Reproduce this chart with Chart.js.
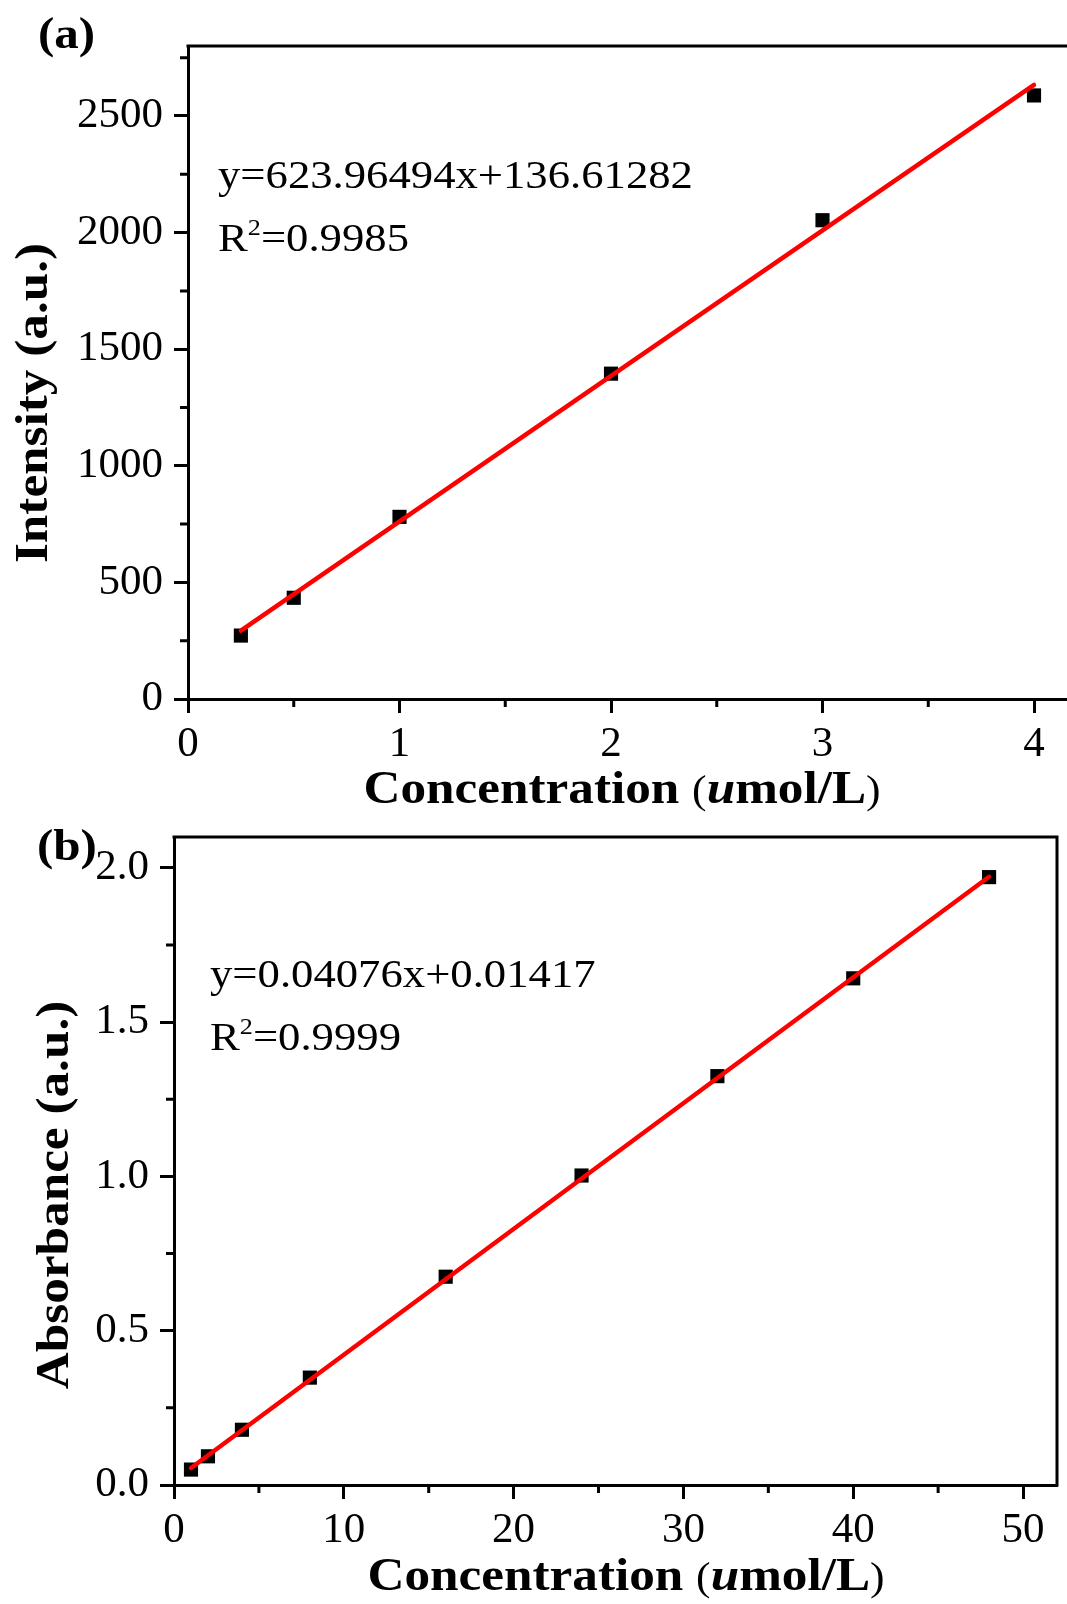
<!DOCTYPE html>
<html>
<head>
<meta charset="utf-8">
<script src="https://cdn.jsdelivr.net/npm/chart.js@4.4.1/dist/chart.umd.min.js"></script>
<style>
  html, body { margin: 0; padding: 0; background: #fff; }
  #wrap { position: relative; width: 1067px; height: 1604px; overflow: hidden; }
  canvas { position: absolute; left: 0; }
</style>
</head>
<body>
<div id="wrap">
  <canvas id="chartA" width="1067" height="830" style="top:0"></canvas>
  <canvas id="chartB" width="1067" height="804" style="top:800px"></canvas>
</div>
<script>
/* (a) intensity vs concentration */
const concA = [0.25, 0.5, 1, 2, 3, 4];
const intensityA = [272, 434, 781, 1395, 2053, 2588];
const fitXA = [0.25, 4];
const fitYA = [293, 2633];
const xTicksA = [0, 1, 2, 3, 4];
const xTickLabelsA = ['0', '1', '2', '3', '4'];
const xMinorA = [0.5, 1.5, 2.5, 3.5];
const yTicksA = [0, 500, 1000, 1500, 2000, 2500];
const yTickLabelsA = ['0', '500', '1000', '1500', '2000', '2500'];
const yMinorA = [250, 750, 1250, 1750, 2250, 2750];

/* (b) absorbance vs concentration */
const concB = [1, 2, 4, 8, 16, 24, 32, 40, 48];
const absorbB = [0.050, 0.093, 0.179, 0.348, 0.675, 1.003, 1.325, 1.642, 1.970];
const fitXB = [1, 48];
const fitYB = [0.055, 1.971];
const xTicksB = [0, 10, 20, 30, 40, 50];
const xTickLabelsB = ['0', '10', '20', '30', '40', '50'];
const xMinorB = [5, 15, 25, 35, 45];
const yTicksB = [0, 0.5, 1.0, 1.5, 2.0];
const yTickLabelsB = ['0.0', '0.5', '1.0', '1.5', '2.0'];
const yMinorB = [0.25, 0.75, 1.25, 1.75];

const SERIF = "'Liberation Serif', 'Times New Roman', serif";
const SX = 1.09; // source text is a bit wider than Times

function toPoints(xs, ys) {
  return xs.map((x, i) => ({ x, y: ys[i] }));
}

function richWidth(ctx, segs) {
  let w = 0;
  for (const s of segs) { ctx.font = s.font; w += ctx.measureText(s.text).width * SX; }
  return w;
}

function drawRich(ctx, segs, x, y) {
  let cx = x;
  for (const s of segs) {
    ctx.font = s.font;
    ctx.save();
    ctx.translate(cx, y + (s.dy || 0));
    ctx.scale(SX, 1);
    ctx.fillText(s.text, 0, 0);
    ctx.restore();
    cx += ctx.measureText(s.text).width * SX;
  }
}

const B47 = `bold 47px ${SERIF}`;
const concTitle = [
  { text: 'Concentration ', font: B47 },
  { text: '(', font: `40px ${SERIF}` },
  { text: 'u', font: `italic bold 47px ${SERIF}` },
  { text: 'mol/L', font: B47 },
  { text: ')', font: `40px ${SERIF}` },
];

// frame, minor ticks and all annotation text
const decor = {
  id: 'decor',
  afterDraw(chart, args, o) {
    const { ctx, chartArea: a, scales } = chart;
    ctx.save();
    ctx.strokeStyle = '#000';
    ctx.lineWidth = 3;
    ctx.lineCap = 'square';
    ctx.beginPath();
    ctx.moveTo(a.left, a.top);
    ctx.lineTo(a.right, a.top);
    if (o.rightBorder) ctx.lineTo(a.right, a.bottom);
    ctx.stroke();

    ctx.lineCap = 'butt';
    ctx.beginPath();
    o.xMinor.forEach(v => {
      const px = scales.x.getPixelForValue(v);
      ctx.moveTo(px, a.bottom); ctx.lineTo(px, a.bottom + 8);
    });
    o.yMinor.forEach(v => {
      const py = scales.y.getPixelForValue(v);
      ctx.moveTo(a.left, py); ctx.lineTo(a.left - 8, py);
    });
    ctx.stroke();

    ctx.fillStyle = '#000';
    ctx.textBaseline = 'alphabetic';
    ctx.textAlign = 'left';

    // panel label
    drawRich(ctx, [{ text: o.panel, font: `bold 45px ${SERIF}` }], o.panelX, o.panelY);

    // fit equation
    const R41 = `41px ${SERIF}`;
    drawRich(ctx, [{ text: o.equation, font: R41 }], o.eqX, o.eqY);
    drawRich(ctx, [
      { text: 'R', font: R41 },
      { text: '2', font: `24px ${SERIF}`, dy: -16 },
      { text: o.r2, font: R41 },
    ], o.eqX, o.eqY + 63);

    // x title
    const w = richWidth(ctx, concTitle);
    drawRich(ctx, concTitle, o.xTitleCx - w / 2, o.xTitleY);

    // y title
    const ySegs = [{ text: o.yTitle, font: B47 }];
    const wy = richWidth(ctx, ySegs);
    ctx.save();
    ctx.translate(o.yTitleX, o.yTitleCy);
    ctx.rotate(-Math.PI / 2);
    drawRich(ctx, ySegs, -wy / 2, 0);
    ctx.restore();

    ctx.restore();
  }
};

function makeScale(min, max, ticks, labels, fitSize, pad) {
  return {
    type: 'linear',
    min, max,
    afterBuildTicks: s => { s.ticks = ticks.map(v => ({ value: v })); },
    afterFit: fitSize,
    ticks: {
      callback: (v, i) => labels[i],
      color: '#000',
      font: { family: SERIF, size: 43 },
      padding: pad,
    },
    grid: {
      drawOnChartArea: false,
      drawTicks: true,
      tickLength: 14,
      tickWidth: 3,
      tickColor: '#000',
    },
    border: { display: true, color: '#000', width: 3 },
  };
}

function makeChart(id, cfg) {
  return new Chart(document.getElementById(id), {
    type: 'scatter',
    data: {
      datasets: [
        {
          data: toPoints(cfg.fitX, cfg.fitY),
          showLine: true,
          borderColor: '#ff0000',
          borderWidth: 4.5,
          borderCapStyle: 'round',
          pointRadius: 0,
          order: 0,
        },
        {
          data: toPoints(cfg.xs, cfg.ys),
          pointStyle: 'rect',
          pointRadius: 10,
          pointBorderWidth: 0,
          pointBackgroundColor: '#000',
          order: 1,
        },
      ],
    },
    options: {
      responsive: false,
      animation: false,
      layout: { padding: cfg.padding, autoPadding: false },
      plugins: {
        legend: { display: false },
        tooltip: { enabled: false },
        decor: cfg.decor,
      },
      scales: {
        x: makeScale(cfg.xMin, cfg.xMax, cfg.xTicks, cfg.xLabels, s => {
          s.height = cfg.xAxisH; s.paddingLeft = 0; s.paddingRight = 0;
        }, 6),
        y: makeScale(cfg.yMin, cfg.yMax, cfg.yTicks, cfg.yLabels, s => {
          s.width = cfg.yAxisW; s.paddingTop = 0; s.paddingBottom = 0;
        }, 11),
      },
    },
    plugins: [decor],
  });
}

makeChart('chartA', {
  xs: concA, ys: intensityA, fitX: fitXA, fitY: fitYA,
  xMin: 0, xMax: 4.156, yMin: 0, yMax: 2800,
  xTicks: xTicksA, xLabels: xTickLabelsA, yTicks: yTicksA, yLabels: yTickLabelsA,
  xAxisH: 131, yAxisW: 188,
  padding: { top: 46, right: 0, left: 0, bottom: 0 },
  decor: {
    rightBorder: false, xMinor: xMinorA, yMinor: yMinorA,
    panel: '(a)', panelX: 38, panelY: 48,
    equation: 'y=623.96494x+136.61282', r2: '=0.9985', eqX: 218, eqY: 188,
    xTitleCx: 622, xTitleY: 803,
    yTitle: 'Intensity (a.u.)', yTitleX: 47, yTitleCy: 403,
  },
});

makeChart('chartB', {
  xs: concB, ys: absorbB, fitX: fitXB, fitY: fitYB,
  xMin: 0, xMax: 52, yMin: 0, yMax: 2.1,
  xTicks: xTicksB, xLabels: xTickLabelsB, yTicks: yTicksB, yLabels: yTickLabelsB,
  xAxisH: 119, yAxisW: 174,
  padding: { top: 37, right: 10, left: 0, bottom: 0 },
  decor: {
    rightBorder: true, xMinor: xMinorB, yMinor: yMinorB,
    panel: '(b)', panelX: 37, panelY: 60,
    equation: 'y=0.04076x+0.01417', r2: '=0.9999', eqX: 210, eqY: 187,
    xTitleCx: 626, xTitleY: 790,
    yTitle: 'Absorbance (a.u.)', yTitleX: 68, yTitleCy: 395,
  },
});
</script>
</body>
</html>
